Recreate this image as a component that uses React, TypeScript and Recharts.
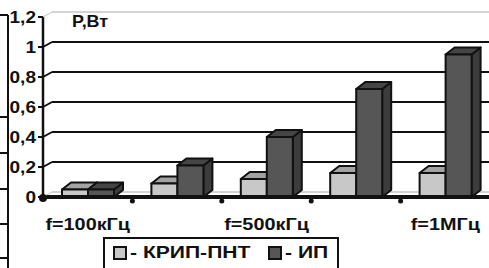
import React from "react";
import { BarChart, Bar, XAxis, YAxis, CartesianGrid, Legend } from "recharts";

// unlabeled middle categories are left blank, as in the picture
const categories = ["f=100кГц", "", "f=500кГц", "", "f=1МГц"];
const kripValues = [0.05, 0.09, 0.12, 0.16, 0.16];
const ipValues = [0.05, 0.21, 0.4, 0.72, 0.95];
const yTicks = [0, 0.2, 0.4, 0.6, 0.8, 1, 1.2];

const data = categories.map((name, i) => ({
  name,
  krip: kripValues[i],
  ip: ipValues[i],
}));

const W = 489;
const H = 268;
const TOP = 17;
const LEFT = 43;
const XAXIS_H = 71;
const PLOT_W = W + 1 - LEFT;
const BAND = PLOT_W / categories.length;
const DEPTH_X = 9; // pseudo 3D offsets
const DEPTH_Y = 7;
const WALL_X = 9;
const WALL_Y = 5;
const FONT = "'Liberation Sans', Arial, sans-serif";

const LIGHT = { front: "#c8c8c8", top: "#a3a3a3", side: "#8c8c8c" };
const DARK = { front: "#565656", top: "#454545", side: "#3c3c3c" };

const make3dBar = (c: typeof LIGHT) => (props: any) => {
  const { x, y, width, height } = props;
  if (height == null || height <= 0) return null;
  const dx = DEPTH_X;
  const dy = DEPTH_Y;
  return (
    <g stroke="#111" strokeWidth={2} strokeLinejoin="round">
      <polygon
        points={`${x + width},${y} ${x + width + dx},${y - dy} ${x + width + dx},${y + height - dy} ${x + width},${y + height}`}
        fill={c.side}
      />
      <polygon
        points={`${x},${y} ${x + dx},${y - dy} ${x + width + dx},${y - dy} ${x + width},${y}`}
        fill={c.top}
      />
      <rect x={x} y={y} width={width} height={height} fill={c.front} />
    </g>
  );
};

const YTick = (props: any) => {
  const { x, y, payload } = props;
  const v = payload.value;
  const label = String(v).replace(".", ",");
  const faint = v === 0 || v === 1.2;
  return (
    <g>
      <text
        transform={`translate(${x - 7},${y + 6}) scale(1.12,1)`}
        textAnchor="end"
        fontFamily={FONT}
        fontWeight="bold"
        fontSize={17}
        fill="#111"
      >
        {label}
      </text>
      <line x1={x - 5} y1={y} x2={x} y2={y} stroke="#111" strokeWidth={2} />
      <line
        x1={x}
        y1={y}
        x2={x + WALL_X}
        y2={y - WALL_Y}
        stroke={faint ? "#c4c4c4" : "#111"}
        strokeWidth={faint ? 1 : 2}
      />
      {v === 0 && <circle cx={x} cy={y + 1} r={4} fill="#111" />}
    </g>
  );
};

const XTick = (props: any) => {
  const { x, y, payload, index } = props;
  return (
    <g>
      {index > 0 && <circle cx={x - BAND / 2} cy={y + 4} r={2.5} fill="#111" />}
      {payload.value && (
        <text
          transform={`translate(${x},${y + 33}) scale(1.24,1)`}
          textAnchor="middle"
          fontFamily={FONT}
          fontWeight="bold"
          fontSize={16}
          fill="#111"
        >
          {payload.value}
        </text>
      )}
    </g>
  );
};

const wallLine = (props: any) => {
  const { x1, x2, y1, index } = props;
  const faint = Math.abs(y1 - TOP) < 1 || Math.abs(y1 - (H - XAXIS_H)) < 1;
  return (
    <line
      key={`wall-${index}`}
      x1={x1 + WALL_X}
      x2={x2}
      y1={y1 - WALL_Y}
      y2={y1 - WALL_Y}
      stroke={faint ? "#c4c4c4" : "#111"}
      strokeWidth={faint ? 1.5 : 2}
    />
  );
};

const legendItems = [
  { c: LIGHT.front, t: "- КРИП-ПНТ", w: 155 },
  { c: DARK.front, t: "- ИП", w: 60 },
];

const LegendBox = () => (
  <div
    style={{
      display: "flex",
      alignItems: "flex-start",
      paddingTop: 4,
      paddingLeft: 8,
      fontFamily: FONT,
      fontWeight: "bold",
      fontSize: 17,
      lineHeight: "20px",
      color: "#111",
    }}
  >
    {legendItems.map((it) => (
      <div key={it.t} style={{ display: "flex", alignItems: "center", width: it.w }}>
        <span
          style={{
            display: "inline-block",
            boxSizing: "border-box",
            width: 14,
            height: 14,
            border: "2px solid #111",
            background: it.c,
            marginRight: 3,
          }}
        />
        <span style={{ display: "inline-block", transform: "scaleX(1.24)", transformOrigin: "left" }}>
          {it.t}
        </span>
      </div>
    ))}
  </div>
);

export default function App() {
  return (
    <div style={{ position: "absolute", left: 0, top: 0, width: W, height: H, background: "#fff", overflow: "hidden" }}>
      <BarChart
        width={W}
        height={H}
        data={data}
        margin={{ top: TOP, right: -1, left: 0, bottom: 0 }}
        barSize={26}
        barGap={0}
      >
        <CartesianGrid vertical={false} horizontal={wallLine} />
        <XAxis
          dataKey="name"
          height={XAXIS_H}
          tickSize={0}
          tickMargin={0}
          interval={0}
          tick={XTick}
          axisLine={{ stroke: "#111", strokeWidth: 4 }}
        />
        <YAxis
          width={LEFT}
          domain={[0, 1.2]}
          ticks={yTicks}
          interval={0}
          tickSize={0}
          tickMargin={0}
          tick={YTick}
          axisLine={{ stroke: "#111", strokeWidth: 2.5 }}
          label={{
            content: (p: any) => (
              <text
                transform={`translate(${p.viewBox.x + p.viewBox.width + 29},27) scale(1.12,1)`}
                fontFamily={FONT}
                fontWeight="bold"
                fontSize={16}
                fill="#111"
              >
                P,Вт
              </text>
            ),
          }}
        />
        <Bar dataKey="krip" name="КРИП-ПНТ" shape={make3dBar(LIGHT)} isAnimationActive={false} />
        <Bar dataKey="ip" name="ИП" shape={make3dBar(DARK)} isAnimationActive={false} />
        <Legend
          layout="horizontal"
          verticalAlign="middle"
          align="center"
          content={LegendBox}
          wrapperStyle={{
            left: 103,
            top: 237,
            width: 236,
            height: 40,
            boxSizing: "border-box",
            border: "2px solid #111",
            background: "#fff",
          }}
        />
      </BarChart>
      <svg
        width={12}
        height={H}
        style={{ position: "absolute", left: 0, top: 0, pointerEvents: "none" }}
      >
        <line x1={8} y1={15} x2={8} y2={H} stroke="#111" strokeWidth={2} />
        {[15, 117, 153, 189, 224, 258].map((t) => (
          <line key={t} x1={0} y1={t} x2={8} y2={t} stroke="#111" strokeWidth={2} />
        ))}
      </svg>
    </div>
  );
}
